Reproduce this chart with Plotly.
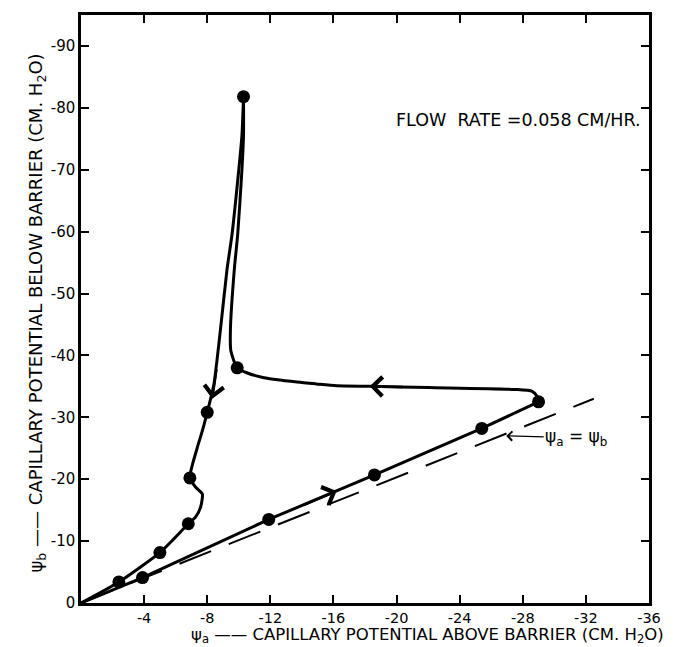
import plotly.graph_objects as go

# Rising branch (along the psi_a = psi_b line)
rise_x = [0, -3.9, -11.9, -18.6, -25.4, -29.0]
rise_y = [0, -4.1, -13.5, -20.7, -28.2, -32.5]

# Return branch: across the top and up to the top point
ret_x = [-29.0, -28.9, -28.6, -27.5, -22.0, -18.3, -16.2, -14.9, -13.7, -11.6, -10.5, -9.9, -9.5, -9.47, -9.72, -9.93, -10.2, -10.3, -10.3]
ret_y = [-32.5, -33.4, -34.2, -34.5, -34.8, -35.0, -35.1, -35.4, -35.7, -36.4, -37.2, -38.0, -40.7, -44.2, -54.0, -59.5, -70.0, -75.5, -81.8]

# Descending branch back to origin
desc_x = [-10.3, -10.2, -10.0, -9.57, -9.26, -8.84, -8.42, -8.0, -7.69, -7.37, -6.9, -7.27, -7.69, -7.58, -7.27, -6.8, -5.9, -5.0, -2.4, 0]
desc_y = [-81.8, -75.5, -70.0, -59.5, -54.0, -44.2, -35.3, -30.8, -27.8, -25.1, -20.2, -18.7, -17.6, -15.5, -13.9, -12.8, -10.4, -8.15, -3.4, 0]

# Measured points
dots_x = [-10.3, -9.9, -29.0, -25.4, -18.6, -11.9, -3.9, -2.4, -5.0, -6.8, -6.9, -8.0]
dots_y = [-81.8, -38.0, -32.5, -28.2, -20.7, -13.5, -4.1, -3.4, -8.15, -12.8, -20.2, -30.8]

# psi_a = psi_b reference line
eq_x = [0, -32.5]
eq_y = [0, -33.0]

x_ticks = [-4, -8, -12, -16, -20, -24, -28, -32, -36]
x_labels = ["-4", "-8", "-12", "-16", "-20", "-24", "-28", "-32", "-36"]
y_ticks = [0, -10, -20, -30, -40, -50, -60, -70, -80, -90]
y_labels = ["0", "-10", "-20", "-30", "-40", "-50", "-60", "-70", "-80", "-90"]

FONT = "DejaVu Sans"
LW = 3

fig = go.Figure()
fig.add_trace(go.Scatter(x=eq_x, y=eq_y, mode="lines",
                         line=dict(color="black", width=2, dash="34px,19px"), showlegend=False))
fig.add_trace(go.Scatter(x=rise_x, y=rise_y, mode="lines",
                         line=dict(color="black", width=LW), showlegend=False))
fig.add_trace(go.Scatter(x=ret_x, y=ret_y, mode="lines",
                         line=dict(color="black", width=LW, shape="spline", smoothing=0.6), showlegend=False))
fig.add_trace(go.Scatter(x=desc_x, y=desc_y, mode="lines",
                         line=dict(color="black", width=LW, shape="spline", smoothing=0.6), showlegend=False))
fig.add_trace(go.Scatter(x=dots_x, y=dots_y, mode="markers",
                         marker=dict(color="black", size=13), showlegend=False))

# direction arrows on the curves
arrows = [
    (-18.3, -35.0, -20.5, -34.9),
    (-8.32, -33.0, -8.6, -38.0),
    (-16.2, -18.1, -14.0, -15.7),
]
for hx, hy, tx, ty in arrows:
    fig.add_annotation(x=hx, y=hy, ax=tx, ay=ty, xref="x", yref="y", axref="x", ayref="y",
                       text="", showarrow=True, arrowhead=4, arrowsize=1.5, arrowwidth=2.5,
                       arrowcolor="black", standoff=0)

fig.add_annotation(x=-26.95, y=-27.0, xref="x", yref="y", ax=70, ay=2,
                   text="ψ<sub>a</sub> = ψ<sub>b</sub>", showarrow=True, arrowhead=4,
                   arrowsize=1.5, arrowwidth=1.2, arrowcolor="black", standoff=0,
                   font=dict(family=FONT, size=17, color="black"))

fig.add_annotation(x=0.99, y=0.822, xref="paper", yref="paper", xanchor="right", yanchor="middle",
                   text="FLOW  RATE =0.058 CM/HR.", showarrow=False,
                   font=dict(family=FONT, size=17.5, color="black"))

fig.add_annotation(x=1.0275, y=-0.0745, xref="paper", yref="paper", xanchor="right", yanchor="bottom",
                   text="ψ<sub>a</sub> —— CAPILLARY POTENTIAL ABOVE BARRIER (CM. H<sub>2</sub>O)",
                   showarrow=False, borderpad=0,
                   font=dict(family=FONT, size=16.5, color="black"))

fig.add_annotation(x=-0.0767, y=0.493, xref="paper", yref="paper", xanchor="center", yanchor="middle",
                   textangle=-90,
                   text="ψ<sub>b</sub> —— CAPILLARY POTENTIAL BELOW BARRIER (CM. H<sub>2</sub>O)",
                   showarrow=False, font=dict(family=FONT, size=18, color="black"))

axis_common = dict(showline=True, linecolor="black", linewidth=2.5, mirror="ticks",
                   ticks="inside", ticklen=8, tickwidth=2, tickcolor="black",
                   showgrid=False, zeroline=False,
                   tickfont=dict(family=FONT, size=14.5, color="black"))

fig.update_xaxes(range=[0, -36], tickvals=x_ticks, ticktext=x_labels, **axis_common)
fig.update_yaxes(range=[0, -95], tickvals=y_ticks, ticktext=y_labels,
                 **{**axis_common, "tickfont": dict(family=FONT, size=15, color="black")})

fig.update_layout(width=673, height=647, margin=dict(l=81, r=18, t=13, b=44),
                  plot_bgcolor="white", paper_bgcolor="white")

fig.write_html("out.html")
